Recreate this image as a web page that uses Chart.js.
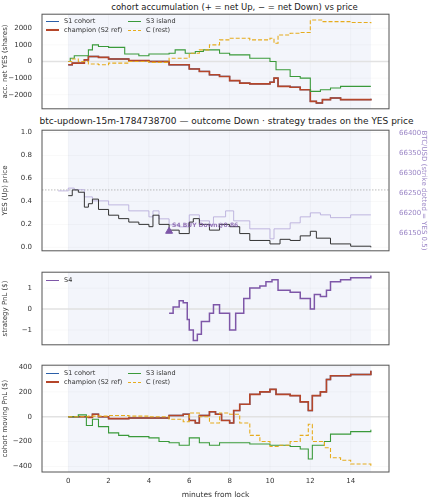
<!DOCTYPE html>
<html><head><meta charset="utf-8">
<script src="https://cdn.jsdelivr.net/npm/chart.js@4"></script>
<style>
body{margin:0;width:429px;height:500px;position:relative;background:#fff;font-family:"DejaVu Sans",sans-serif;overflow:hidden}
canvas{position:absolute;left:0}
.t{position:absolute;left:0;width:429px;text-align:center;font-size:8.5px;color:#222;white-space:nowrap}
.lg{position:absolute;font-size:6.5px;color:#333}
.lg div{position:absolute;white-space:nowrap}
.lg span{display:inline-block;width:13px;height:0;margin-right:5px;vertical-align:middle}
</style></head><body>
<div class="t" style="top:2px;left:20px">cohort accumulation (+ = net Up, − = net Down) vs price</div>
<div class="t" style="top:116px;left:12px;font-size:9px">btc-updown-15m-1784738700 — outcome Down · strategy trades on the YES price</div>
<canvas id="c1" width="429" height="107" style="top:8px"></canvas>
<canvas id="c2" width="429" height="133" style="top:124px"></canvas>
<canvas id="c3" width="429" height="85" style="top:266px"></canvas>
<canvas id="c4" width="429" height="141" style="top:359px"></canvas>
<div class="lg" style="left:46px;top:17px">
 <div style="left:0;top:0"><span style="border-top:1.5px solid #2b5fa8"></span>S1 cohort</div>
 <div style="left:0;top:9px"><span style="border-top:2px solid #b5462a"></span>champion (S2 ref)</div>
 <div style="left:82px;top:0"><span style="border-top:1.5px solid #3a9a3a"></span>S3 island</div>
 <div style="left:82px;top:9px"><span style="border-top:1.5px dashed #e6ac1e"></span>C (rest)</div>
</div>
<div class="lg" style="left:46px;top:369px">
 <div style="left:0;top:0"><span style="border-top:1.5px solid #2b5fa8"></span>S1 cohort</div>
 <div style="left:0;top:9px"><span style="border-top:2px solid #b5462a"></span>champion (S2 ref)</div>
 <div style="left:82px;top:0"><span style="border-top:1.5px solid #3a9a3a"></span>S3 island</div>
 <div style="left:82px;top:9px"><span style="border-top:1.5px dashed #e6ac1e"></span>C (rest)</div>
</div>
<div class="lg" style="left:46px;top:276px">
 <div style="left:0;top:0"><span style="border-top:1.5px solid #7e57a8"></span>S4</div>
</div>
<script>
// panel 1: accumulated net YES shares
const accChampT = [0,0.2,0.5,0.8,1.0,1.5,2,3,4,5,6,6.5,7,7.5,8,8.5,9,10,10.2,10.4,11,11.5,12,12.3,12.6,13,13.5,14,15];
const accChampV = [-200,-100,-100,100,300,250,150,50,0,-200,-450,-600,-800,-900,-1150,-1300,-1350,-1250,-1000,-1500,-1550,-1700,-2400,-2500,-2300,-2200,-2300,-2300,-2250];
const accS3T = [0,0.1,0.3,1,1.2,1.5,2,2.5,2.8,3.5,4,5,5.3,5.8,6.3,6.7,7.5,8,9,10,10.3,11,11.5,12,12.5,13,13.5,15];
const accS3V = [0,200,350,700,1000,900,850,850,450,350,450,500,700,500,600,700,500,400,200,0,-500,-900,-1000,-1800,-1700,-1600,-1500,-1500];
const accCT = [0,0.2,0.5,1,1.5,2,3,4,5,6,6.5,7,7.5,8,8.5,9,10,10.2,10.4,11,11.5,12,12.3,12.6,13,14,15];
const accCV = [0,150,0,-150,-200,-100,0,-50,200,500,700,1000,1300,1400,1400,1300,1400,1100,1600,1700,1750,2500,2500,2400,2400,2350,2300];
// panel 2: YES price and BTC
const yesT = [0,0.2,0.5,0.8,1,1.2,1.5,2,2.5,3,3.5,4,4.2,4.5,5,5.5,6,6.2,6.5,7,7.5,8,8.5,9,10,10.5,11,11.5,12,12.3,13,14,15];
const yesV = [0.45,0.5,0.48,0.35,0.38,0.42,0.33,0.28,0.25,0.22,0.2,0.18,0.28,0.2,0.15,0.12,0.22,0.25,0.2,0.15,0.2,0.18,0.12,0.06,0.03,0.07,0.06,0.1,0.14,0.08,0.03,0.01,0.0];
const btcT = [-0.5,0,0.3,0.8,1.2,2,3,4,4.2,4.5,5,5.5,6,6.5,7,7.2,7.8,8.2,9,10,10.2,11,11.5,12,12.5,13,14,15];
const btcV = [66255,66262,66258,66240,66230,66220,66205,66190,66205,66185,66170,66165,66195,66180,66170,66190,66205,66180,66160,66135,66160,66175,66190,66200,66195,66188,66195,66195];
const strike = 0.5;
const trade = {t: 5, p: 0.14, label: 'S4 BUY Down@0.86'};
// panel 3: S4 pnl
const s4T = [5,5.2,5.5,5.7,5.9,6,6.2,6.4,6.6,7,7.2,7.5,8,8.3,8.7,9,9.5,9.8,10.1,10.4,11,11.5,12,12.2,12.5,12.8,13,13.5,14,15];
const s4V = [-0.2,0.1,0.4,0.3,-0.5,-1.0,-1.5,-1.2,-0.6,-0.2,0.2,-0.2,-1.0,-0.2,0.5,1.0,1.1,1.3,1.4,0.9,0.8,0.5,0.0,0.7,0.6,0.9,1.3,1.4,1.5,1.6];
// panel 4: moving pnl
const pnlChampT = [0,1,1.2,1.5,2,3,4,5,5.7,6,6.3,6.5,7,7.3,7.6,8,8.2,8.5,9,9.5,10,10.3,11,11.5,11.9,12.1,12.5,12.8,13,14,15];
const pnlChampV = [0,-5,20,0,-15,-10,-10,10,20,-30,-50,10,40,20,-30,-50,50,100,180,200,220,180,170,120,50,170,200,300,330,340,370];
const pnlS3T = [0,0.5,0.9,1.2,1.5,2,2.5,3,4,4.5,5,5.5,6,6.5,7,7.5,8,9,10,11,11.5,11.9,12.1,12.7,13,14,15];
const pnlS3V = [0,15,-70,-20,-80,-130,-150,-160,-170,-200,-210,-230,-170,-210,-230,-210,-210,-220,-230,-240,-260,-340,-230,-200,-140,-120,-105];
const pnlCT = [0,1,2,3,4,5,5.7,6,6.5,7,7.5,8,8.5,9,9.5,10,10.5,11,11.5,11.9,12.1,12.7,13,13.5,14,15];
const pnlCV = [0,5,10,5,0,-20,-40,30,0,-50,30,20,-50,-150,-200,-240,-230,-200,-150,-60,-200,-250,-330,-350,-380,-400];
const xTicks = [0,2,4,6,8,10,12,14];

const pts = (t, v) => t.map((x, i) => ({x, y: v[i]}));
const FONT = {family: 'DejaVu Sans', size: 7};

const decor = {
  id: 'decor',
  beforeDatasetsDraw(chart, a, o) {
    const {ctx, chartArea: ca, scales: {x, y}} = chart;
    ctx.save();
    ctx.fillStyle = '#f3f5fb';
    ctx.fillRect(x.getPixelForValue(0), ca.top, x.getPixelForValue(15) - x.getPixelForValue(0), ca.height);
    ctx.strokeStyle = 'rgba(0,0,0,0.05)'; ctx.lineWidth = 0.6;
    xTicks.forEach(t => { const px = x.getPixelForValue(t); ctx.beginPath(); ctx.moveTo(px, ca.top); ctx.lineTo(px, ca.bottom); ctx.stroke(); });
    y.ticks.forEach(t => { const py = y.getPixelForValue(t.value); ctx.beginPath(); ctx.moveTo(ca.left, py); ctx.lineTo(ca.right, py); ctx.stroke(); });
    if (o.zero) {
      ctx.strokeStyle = '#e2e2e2'; ctx.lineWidth = 1.5;
      const py = y.getPixelForValue(0); ctx.beginPath(); ctx.moveTo(ca.left, py); ctx.lineTo(ca.right, py); ctx.stroke();
    }
    if (o.strike) {
      ctx.strokeStyle = '#aaaaaa'; ctx.lineWidth = 0.8; ctx.setLineDash([1.5, 1.5]);
      const py = y.getPixelForValue(strike); ctx.beginPath(); ctx.moveTo(ca.left, py); ctx.lineTo(ca.right, py); ctx.stroke();
    }
    ctx.restore();
  },
  afterDraw(chart) {
    const {ctx, chartArea: ca} = chart;
    ctx.save(); ctx.strokeStyle = '#555'; ctx.lineWidth = 1;
    ctx.strokeRect(ca.left, ca.top, ca.width, ca.height); ctx.restore();
  }
};

function xAxis(labels) {
  return {
    type: 'linear', min: -1.3, max: 15.9,
    afterBuildTicks: s => { s.ticks = xTicks.map(v => ({value: v})); },
    afterFit: s => { s.height = labels ? 28 : 6; },
    grid: {display: false, drawTicks: true, tickLength: 3},
    border: {display: false},
    ticks: {font: FONT, color: '#333', padding: 2, maxRotation: 0, callback: v => labels ? v : ''},
    title: {display: labels, text: 'minutes from lock', font: {family: 'DejaVu Sans', size: 7.5}, color: '#333', padding: 0}
  };
}
function yAxis(min, max, ticks, title, pos, color, fmt) {
  return {
    type: 'linear', min, max, position: pos || 'left',
    afterBuildTicks: s => { s.ticks = ticks.map(v => ({value: v})); },
    afterFit: s => { s.width = pos === 'right' ? 40 : 42; },
    grid: {display: false},
    border: {display: false},
    ticks: {font: FONT, color: color || '#333', padding: 2, callback: fmt || (v => String(v).replace('-', '−'))},
    title: {display: true, text: title, font: {family: 'DejaVu Sans', size: 7}, color: color || '#333', padding: 1}
  };
}
const line = (label, data, color, w, dash, order) => ({label, data, borderColor: color, borderWidth: w, borderDash: dash || [], stepped: true, pointRadius: 0, fill: false, order: order || 0});
const base = (pad, dec) => ({
  responsive: false, animation: false, parsing: false,
  layout: {padding: Object.assign({top: 6, right: 40, left: 0, bottom: 0}, pad || {})},
  plugins: {legend: {display: false}, tooltip: {enabled: false}, decor: dec || {}}
});

new Chart(document.getElementById('c1'), {
  type: 'line',
  data: {datasets: [
    line('S1 cohort', pts(accChampT, accChampV), '#2b5fa8', 1.3, null, 5),
    line('champion (S2 ref)', pts(accChampT, accChampV), '#b5462a', 1.6, null, 4),
    line('S3 island', pts(accS3T, accS3V), '#3a9a3a', 1.1, null, 3),
    line('C (rest)', pts(accCT, accCV), '#e6ac1e', 1.1, [4, 2], 2)
  ]},
  options: Object.assign(base(null, {zero: true}), {scales: {x: xAxis(false), y: yAxis(-2850, 2850, [-2000, -1000, 0, 1000, 2000], 'acc. net YES (shares)')}}),
  plugins: [decor]
});

new Chart(document.getElementById('c2'), {
  type: 'line',
  data: {datasets: [
    Object.assign(line('BTC', pts(btcT, btcV), '#b3a6d8', 0.8, null, 3), {yAxisID: 'y2'}),
    line('YES', pts(yesT, yesV), '#333333', 1.0, null, 2),
    {type: 'scatter', label: 'S4 trade', data: [{x: trade.t, y: trade.p}], pointStyle: 'triangle', pointRadius: 4, backgroundColor: '#7e57a8', borderColor: '#7e57a8', order: 1}
  ]},
  options: Object.assign(base({right: 0}, {strike: true}), {scales: {
    x: xAxis(false),
    y: yAxis(-0.03, 1.02, [0, 0.2, 0.4, 0.6, 0.8, 1.0], 'YES (Up) price', 'left', null, v => v.toFixed(1)),
    y2: yAxis(66105, 66407, [66150, 66200, 66250, 66300, 66350, 66400], 'BTC/USD (strike dotted = YES 0.5)', 'right', '#9b86c6', v => v)
  }}),
  plugins: [decor, {
    id: 'tradeLabel',
    afterDatasetsDraw(chart) {
      const {ctx, scales: {x, y}} = chart;
      ctx.save(); ctx.font = 'bold 6px DejaVu Sans'; ctx.fillStyle = 'rgba(126,87,168,0.8)'; ctx.textBaseline = 'middle';
      ctx.fillText(trade.label, x.getPixelForValue(trade.t) + 3, y.getPixelForValue(trade.p) - 6);
      ctx.restore();
    }
  }]
});

new Chart(document.getElementById('c3'), {
  type: 'line',
  data: {datasets: [line('S4', pts(s4T, s4V), '#7e57a8', 1.5)]},
  options: Object.assign(base(null, {zero: true}), {scales: {x: xAxis(false), y: yAxis(-1.71, 1.76, [-1, 0, 1], 'strategy PnL ($)')}}),
  plugins: [decor]
});

new Chart(document.getElementById('c4'), {
  type: 'line',
  data: {datasets: [
    line('S1 cohort', pts(pnlChampT, pnlChampV), '#2b5fa8', 1.3, null, 5),
    line('champion (S2 ref)', pts(pnlChampT, pnlChampV), '#b5462a', 1.6, null, 4),
    line('S3 island', pts(pnlS3T, pnlS3V), '#3a9a3a', 1.1, null, 3),
    line('C (rest)', pts(pnlCT, pnlCV), '#e6ac1e', 1.1, [4, 2], 2)
  ]},
  options: Object.assign(base(null, {zero: true}), {scales: {x: xAxis(true), y: yAxis(-445, 415, [-400, -200, 0, 200, 400], 'cohort moving PnL ($)')}}),
  plugins: [decor]
});
</script>
</body></html>
